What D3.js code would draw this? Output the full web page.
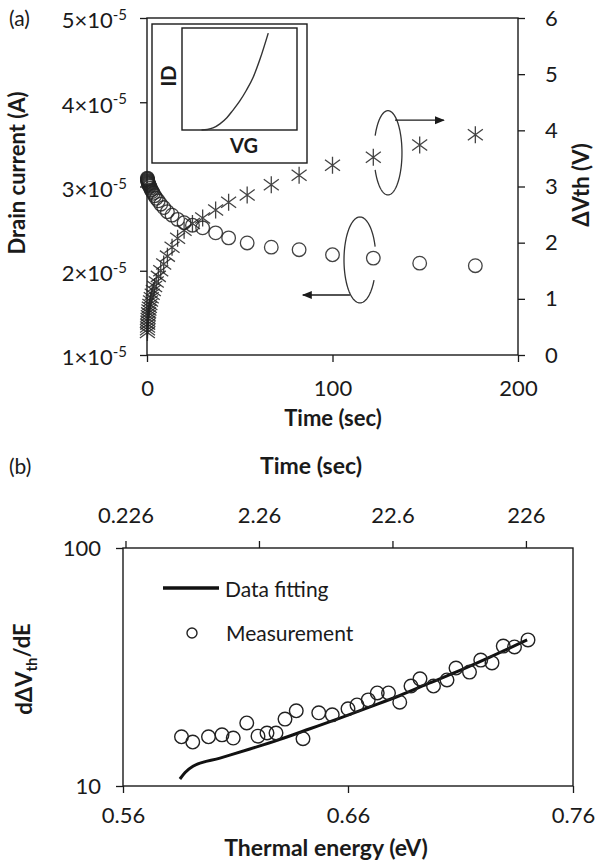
<!DOCTYPE html>
<html>
<head>
<meta charset="utf-8">
<script src="https://cdn.jsdelivr.net/npm/d3@7"></script>
<style>
body { margin: 0; background: #fff; }
text { font-family: Lato, "Open Sans", sans-serif; fill: #1a1a1a; }
</style>
</head>
<body>
<svg id="chart" width="600" height="867"></svg>
<script>
// ---- panel (a): drain current and threshold shift vs stress time
const timeSec = [0.21, 0.26, 0.31, 0.38, 0.47, 0.57, 0.70, 0.85, 1.04, 1.27, 1.55, 1.9, 2.3, 2.8, 3.4,
                 4.1, 5.0, 6.1, 7.4, 9.0, 11, 13.5, 16.5, 20, 24.5, 30, 37, 44, 54, 67, 82, 100, 122, 147, 177];
const drainCurrent = [3.10e-5, 3.09e-5, 3.08e-5, 3.07e-5, 3.06e-5, 3.05e-5, 3.04e-5, 3.03e-5, 3.02e-5, 3.01e-5,
                      3.00e-5, 2.98e-5, 2.96e-5, 2.94e-5, 2.92e-5, 2.89e-5, 2.86e-5, 2.83e-5, 2.79e-5, 2.75e-5,
                      2.70e-5, 2.66e-5, 2.61e-5, 2.57e-5, 2.54e-5, 2.51e-5, 2.45e-5, 2.39e-5, 2.33e-5, 2.28e-5,
                      2.25e-5, 2.19e-5, 2.15e-5, 2.09e-5, 2.06e-5];
const deltaVth = [0.40, 0.45, 0.50, 0.55, 0.60, 0.65, 0.70, 0.75, 0.80, 0.85, 0.90, 0.96, 1.02, 1.08, 1.15,
                  1.22, 1.30, 1.40, 1.50, 1.62, 1.76, 1.92, 2.08, 2.22, 2.34, 2.44, 2.58, 2.72, 2.85, 3.03,
                  3.20, 3.38, 3.52, 3.74, 3.92];
const timeTicksA = [0, 100, 200];
const currentTicks = [1e-5, 2e-5, 3e-5, 4e-5, 5e-5];
const vthTicks = [0, 1, 2, 3, 4, 5, 6];

// inset: schematic ID-VG curve (normalised)
const insetVG = [0.17, 0.22, 0.27, 0.33, 0.39, 0.44, 0.50, 0.56, 0.62, 0.68, 0.75];
const insetID = [0, 0.005, 0.02, 0.06, 0.12, 0.19, 0.28, 0.39, 0.52, 0.70, 0.95];

// ---- panel (b): dVth/dE vs thermal energy
const measEnergy = [0.586, 0.591, 0.598, 0.604, 0.609, 0.615, 0.620, 0.624, 0.628, 0.632, 0.637, 0.640,
                    0.647, 0.653, 0.660, 0.664, 0.669, 0.673, 0.678, 0.683, 0.688, 0.692, 0.698, 0.704,
                    0.708, 0.714, 0.719, 0.724, 0.729, 0.734, 0.740];
const measSlope = [16.1, 15.3, 16.1, 16.4, 15.9, 18.4, 16.2, 16.7, 16.7, 19.1, 20.7, 15.8, 20.3, 19.9,
                   21.1, 21.9, 23.0, 24.6, 24.6, 22.5, 26.3, 28.2, 26.3, 27.9, 31.3, 30.1, 33.8, 32.9,
                   38.7, 38.4, 41.1];
const fitEnergy = [0.5853, 0.5876, 0.5911, 0.6031, 0.6164, 0.6298, 0.6431, 0.6564, 0.6698, 0.6831,
                   0.6964, 0.7098, 0.7231, 0.7396];
const fitSlope = [10.7, 11.4, 12.1, 13.1, 14.3, 15.7, 17.4, 19.3, 21.5, 24.0, 27.1, 30.6, 34.8, 41.1];
const energyTicks = [0.56, 0.66, 0.76];
const timeTicksB = [0.226, 2.26, 22.6, 226];
const slopeTicks = [10, 100];

const svg = d3.select("#chart");
const ink = "#1a1a1a";
const tickFont = 22;

// ================= panel (a) =================
const xA = d3.scaleLinear().domain([0, 200]).range([147, 518]);
const yI = d3.scaleLinear().domain([1e-5, 5e-5]).range([355, 18]);
const yV = d3.scaleLinear().domain([0, 6]).range([355, 18]);

const pa = svg.append("g");

function styleAxis(g, size) {
  g.select(".domain").remove();
  g.selectAll(".tick line").attr("stroke", ink).attr("stroke-width", 1.3);
  g.selectAll(".tick text").attr("fill", ink).style("font-size", size + "px");
}

pa.append("g").attr("transform", "translate(0,355)")
  .call(d3.axisBottom(xA).tickValues(timeTicksA).tickSize(7).tickPadding(18))
  .call(g => styleAxis(g, tickFont));

const leftA = pa.append("g").attr("transform", "translate(147,0)")
  .call(d3.axisLeft(yI).tickValues(currentTicks).tickSize(7).tickPadding(13).tickFormat(""))
  .call(g => styleAxis(g, tickFont));
leftA.selectAll(".tick text").each(function(d) {
  const t = d3.select(this).attr("dy", "0.45em");
  t.append("tspan").text(Math.round(d / 1e-5) + "\u00d710");
  t.append("tspan").attr("dy", "-0.55em").style("font-size", "15px").text("-5");
});

pa.append("g").attr("transform", "translate(518,0)")
  .call(d3.axisRight(yV).tickValues(vthTicks).tickSize(7).tickPadding(20).tickFormat(d3.format("d")))
  .call(g => styleAxis(g, tickFont));

// frame
pa.append("rect").attr("x", 147).attr("y", 18).attr("width", 371).attr("height", 337)
  .attr("fill", "none").attr("stroke", ink).attr("stroke-width", 1.4);

// inset
const inset = pa.append("g");
inset.append("rect").attr("x", 152).attr("y", 24).attr("width", 155).attr("height", 139)
  .attr("fill", "#fff").attr("stroke", ink).attr("stroke-width", 1.4);
inset.append("rect").attr("x", 182).attr("y", 28).attr("width", 115).attr("height", 102)
  .attr("fill", "none").attr("stroke", ink).attr("stroke-width", 1.4);
const xIn = d3.scaleLinear().domain([0, 1]).range([182, 297]);
const yIn = d3.scaleLinear().domain([0, 1]).range([130, 28]);
inset.append("path")
  .attr("d", d3.line().curve(d3.curveMonotoneX).x(d => xIn(d[0])).y(d => yIn(d[1]))(d3.zip(insetVG, insetID)))
  .attr("fill", "none").attr("stroke", "#333").attr("stroke-width", 1.4);
inset.append("text").attr("transform", "translate(176,76) rotate(-90)").attr("text-anchor", "middle")
  .style("font-size", "20px").style("font-weight", 700).text("ID");
inset.append("text").attr("x", 244).attr("y", 153).attr("text-anchor", "middle")
  .style("font-size", "20px").style("font-weight", 700).text("VG");

// data
const rowsA = d3.range(timeSec.length).map(i => ({t: timeSec[i], id: drainCurrent[i], v: deltaVth[i]}));
pa.append("g").selectAll("circle").data(rowsA).join("circle")
  .attr("cx", d => xA(d.t)).attr("cy", d => yI(d.id)).attr("r", 6.8)
  .attr("fill", "none").attr("stroke", "#222").attr("stroke-width", 1.3).attr("stroke-opacity", 0.85);
const star = "M0,-8.5V8.5M-7.5,-5.5L7.5,5.5M-7.5,5.5L7.5,-5.5";
pa.append("g").selectAll("path").data(rowsA).join("path")
  .attr("transform", d => `translate(${xA(d.t)},${yV(d.v)})`).attr("d", star)
  .attr("fill", "none").attr("stroke", "#222").attr("stroke-width", 1.3).attr("stroke-opacity", 0.85);

// annotations: ellipses with arrows pointing at each axis
const defs = svg.append("defs");
defs.append("marker").attr("id", "head").attr("viewBox", "0 0 10 10").attr("refX", 9).attr("refY", 5)
  .attr("markerWidth", 10).attr("markerHeight", 10).attr("markerUnits", "userSpaceOnUse").attr("orient", "auto")
  .append("path").attr("d", "M0,1L10,5L0,9Z").attr("fill", ink);

function ellipseArc(cx, cy, rx, ry, a0, a1) {
  const pts = d3.range(a0, a1 + 0.5, 2).map(a => {
    const r = a * Math.PI / 180;
    return [cx + rx * Math.cos(r), cy - ry * Math.sin(r)];
  });
  return d3.line()(pts);
}
// ring around the ΔVth points -> right axis
const ringV = {t: 129.9, v: 3.6, rt: 7.55, rv: 0.75};
pa.append("path")
  .attr("d", ellipseArc(xA(ringV.t), yV(ringV.v), xA(ringV.rt) - xA(0), yV(0) - yV(ringV.rv), -156, 156))
  .attr("fill", "none").attr("stroke", "#333").attr("stroke-width", 1.3);
pa.append("line").attr("x1", xA(133.7)).attr("y1", yV(4.18)).attr("x2", xA(160)).attr("y2", yV(4.18))
  .attr("stroke", ink).attr("stroke-width", 1.3).attr("marker-end", "url(#head)");
// ring around the current points -> left axis
const ringI = {t: 114.8, i: 2.128e-5, rt: 8.6, ri: 0.51e-5};
pa.append("path")
  .attr("d", ellipseArc(xA(ringI.t), yI(ringI.i), xA(ringI.rt) - xA(0), yI(1e-5) - yI(1e-5 + ringI.ri), 18, 332))
  .attr("fill", "none").attr("stroke", "#333").attr("stroke-width", 1.3);
pa.append("line").attr("x1", xA(109.4)).attr("y1", yI(1.712e-5)).attr("x2", xA(84)).attr("y2", yI(1.712e-5))
  .attr("stroke", ink).attr("stroke-width", 1.3).attr("marker-end", "url(#head)");

// titles
pa.append("text").attr("x", 9).attr("y", 26).style("font-size", "21px").text("(a)");
pa.append("text").attr("x", 333).attr("y", 426).attr("text-anchor", "middle")
  .style("font-size", "22px").style("font-weight", 700).text("Time (sec)");
pa.append("text").attr("transform", "translate(25,173) rotate(-90)").attr("text-anchor", "middle")
  .style("font-size", "22px").style("font-weight", 700).text("Drain current (A)");
pa.append("text").attr("transform", "translate(589,185) rotate(-90)").attr("text-anchor", "middle")
  .style("font-size", "22px").style("font-weight", 700).text("\u0394Vth (V)");

// ================= panel (b) =================
const xE = d3.scaleLinear().domain([0.56, 0.76]).range([123, 573]);
const xT = d3.scaleLog().domain([0.2165, 509]).range([123, 573]);
const yS = d3.scaleLog().domain([10, 100]).range([786, 548]);
const pb = svg.append("g");

pb.append("g").attr("transform", "translate(0,786)")
  .call(d3.axisBottom(xE).tickValues(energyTicks).tickSize(7).tickPadding(14).tickFormat(d3.format(".2f")))
  .call(g => styleAxis(g, tickFont));
pb.append("g").attr("transform", "translate(0,548)")
  .call(d3.axisTop(xT).tickValues(timeTicksB).tickSize(7).tickPadding(18).tickFormat(d => String(d)))
  .call(g => styleAxis(g, tickFont));
pb.append("g").attr("transform", "translate(123,0)")
  .call(d3.axisLeft(yS).tickValues(slopeTicks).tickSize(7).tickPadding(15).tickFormat(d3.format("d")))
  .call(g => styleAxis(g, tickFont));
pb.append("rect").attr("x", 123).attr("y", 548).attr("width", 450).attr("height", 238)
  .attr("fill", "none").attr("stroke", ink).attr("stroke-width", 1.4);

pb.append("path")
  .attr("d", d3.line().curve(d3.curveMonotoneX).x(d => xE(d[0])).y(d => yS(d[1]))(d3.zip(fitEnergy, fitSlope)))
  .attr("fill", "none").attr("stroke", "#111").attr("stroke-width", 3);
pb.append("g").selectAll("circle").data(d3.zip(measEnergy, measSlope)).join("circle")
  .attr("cx", d => xE(d[0])).attr("cy", d => yS(d[1])).attr("r", 6.8)
  .attr("fill", "none").attr("stroke", "#222").attr("stroke-width", 1.4);

// legend
const lg = pb.append("g");
lg.append("line").attr("x1", 163).attr("x2", 219).attr("y1", 588).attr("y2", 588)
  .attr("stroke", "#111").attr("stroke-width", 3.5);
lg.append("text").attr("x", 225).attr("y", 597).style("font-size", "21px").text("Data fitting");
lg.append("circle").attr("cx", 192).attr("cy", 633).attr("r", 5)
  .attr("fill", "none").attr("stroke", "#222").attr("stroke-width", 1.4);
lg.append("text").attr("x", 226).attr("y", 641).style("font-size", "21px").text("Measurement");

// titles
pb.append("text").attr("x", 9).attr("y", 474).style("font-size", "21px").text("(b)");
pb.append("text").attr("x", 311).attr("y", 474).attr("text-anchor", "middle")
  .style("font-size", "23px").style("font-weight", 700).text("Time (sec)");
pb.append("text").attr("x", 326).attr("y", 856).attr("text-anchor", "middle")
  .style("font-size", "23px").style("font-weight", 700).text("Thermal energy (eV)");
const yt = pb.append("text").attr("transform", "translate(32,669) rotate(-90)").attr("text-anchor", "middle")
  .style("font-size", "22px").style("font-weight", 700);
yt.append("tspan").text("d\u0394V");
yt.append("tspan").attr("dy", "0.3em").style("font-size", "15px").text("th");
yt.append("tspan").attr("dy", "-0.3em").text("/dE");
</script>
</body>
</html>
